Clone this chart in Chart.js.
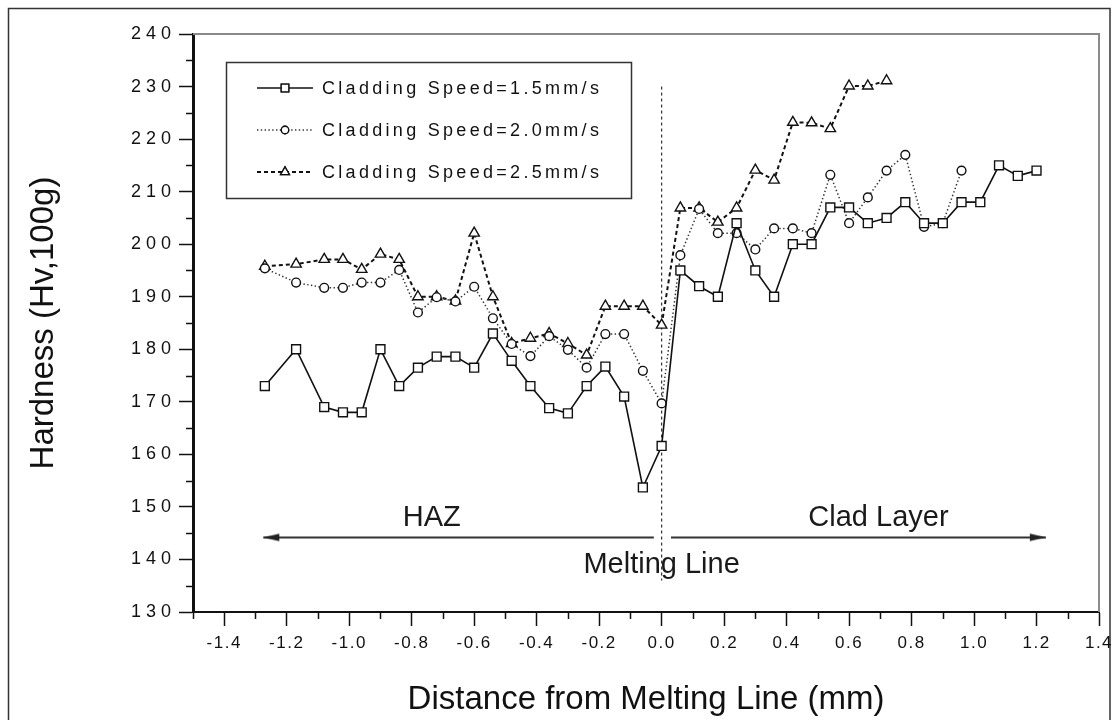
<!DOCTYPE html>
<html>
<head>
<meta charset="utf-8">
<script src="https://cdn.jsdelivr.net/npm/chart.js@4.4.1/dist/chart.umd.min.js"></script>
<style>
  html, body { margin: 0; padding: 0; background: #fff; }
  #wrap { width: 1118px; height: 720px; position: relative; }
</style>
</head>
<body>
<div id="wrap"><canvas id="hardness" width="1118" height="720"></canvas></div>
<script>
// Distance of each indent from the melting line (mm)
const distance = [-1.27, -1.17, -1.08, -1.02, -0.96, -0.90, -0.84, -0.78, -0.72, -0.66,
                  -0.60, -0.54, -0.48, -0.42, -0.36, -0.30, -0.24, -0.18, -0.12, -0.06,
                   0.00,  0.06,  0.12,  0.18,  0.24,  0.30,  0.36,  0.42,  0.48,  0.54,
                   0.60,  0.66,  0.72,  0.78,  0.84,  0.90,  0.96,  1.02,  1.08,  1.14, 1.20];

// Microhardness (Hv, 100g) for each cladding speed
const hardness15 = [173, 180, 169, 168, 168, 180, 173, 176.5, 178.6, 178.6,
                    176.5, 183, 177.8, 173, 168.8, 167.8, 173, 176.7, 171, 153.7,
                    161.6, 195, 192, 190, 204, 195, 190, 200, 200, 207,
                    207, 204, 205, 208, 204, 204, 208, 208, 215, 213, 214];
const hardness20 = [195.4, 192.7, 191.7, 191.7, 192.7, 192.7, 195.1, 187, 189.9, 189.1,
                    191.9, 185.9, 181, 178.7, 182.5, 179.9, 176.5, 182.9, 182.9, 175.9,
                    169.7, 197.9, 206.7, 202.1, 202.1, 199, 203, 203, 202.1, 213.2,
                    204, 208.9, 214, 217, 203.3, 204, 214];
const hardness25 = [195.8, 196.2, 197.1, 197.1, 195.2, 198.1, 197.1, 190, 190, 189.2,
                    202.1, 190, 181.1, 182.1, 183, 181.1, 178.9, 188.2, 188.2, 188.2,
                    184.6, 206.9, 206.9, 204.2, 206.9, 214.1, 212.2, 223.2, 223.1, 222,
                    230.1, 230.1, 231.1];

const seriesLabels = ['Cladding Speed=1.5mm/s', 'Cladding Speed=2.0mm/s', 'Cladding Speed=2.5mm/s'];

// Zone markers: melting line and the HAZ / clad layer arrows
const meltLineX = [0, 0];
const meltLineY = [230, 136];
const hazArrowX = [-0.025, -1.275];
const cladArrowX = [0.03, 1.23];
const arrowY = [144.2, 144.2];
const zoneText = ['HAZ', 'Clad Layer', 'Melting Line'];
const zoneTextX = [-0.736, 0.694, 0];
const zoneTextY = [147.9, 147.9, 138.9];

// Axis ranges
const xRange = [-1.5, 1.4];
const yRange = [130, 240];

const FONT = "'Liberation Sans', Arial, Helvetica, sans-serif";
const INK = '#111';

function pts(xs, ys) { return ys.map((y, i) => ({ x: xs[i], y })); }

// Small arrowhead bitmap; its tip sits at the bitmap centre
function arrowHead() {
  const c = document.createElement('canvas');
  c.width = 34; c.height = 10;
  const g = c.getContext('2d');
  g.fillStyle = '#222';
  g.beginPath(); g.moveTo(17, 5); g.lineTo(33, 1.2); g.lineTo(33, 8.8); g.closePath(); g.fill();
  return c;
}
const head = arrowHead();

const series = [
  { data: hardness15, style: 'rect',     radius: 6.3, dash: [],         width: 1.6, color: '#111' },
  { data: hardness20, style: 'circle',   radius: 4.4, dash: [1.4, 2.4], width: 1.5, color: '#333' },
  { data: hardness25, style: 'triangle', radius: 6.0, dash: [4, 3],     width: 2.0, color: '#111' }
];

const datasets = series.map((s, i) => ({
  label: seriesLabels[i],
  data: pts(distance, s.data),
  borderColor: s.color,
  borderWidth: s.width,
  borderDash: s.dash,
  pointStyle: s.style,
  pointRadius: s.radius,
  pointBackgroundColor: '#fff',
  pointBorderColor: INK,
  pointBorderWidth: 1.4,
  tension: 0,
  fill: false
}));

datasets.push({
  label: 'melting line',
  data: pts(meltLineX, meltLineY),
  borderColor: '#333', borderWidth: 1.2, borderDash: [3, 3],
  pointRadius: 0, fill: false
});
datasets.push({
  label: 'HAZ',
  data: pts(hazArrowX, arrowY),
  borderColor: '#333', borderWidth: 2, pointRadius: [0, 5],
  pointStyle: head, pointRotation: [0, 0], fill: false
});
datasets.push({
  label: 'Clad Layer',
  data: pts(cladArrowX, arrowY),
  borderColor: '#333', borderWidth: 2, pointRadius: [0, 5],
  pointStyle: head, pointRotation: [0, 180], fill: false
});

// Letter-spaced tick labels
const tickSpacing = { x: '1.5px', y: '5px' };
const spacedTicks = {
  id: 'spacedTicks',
  beforeDraw(chart) {
    for (const id of ['x', 'y']) {
      const s = chart.scales[id];
      if (!s || s._spaced) continue;
      const orig = s.drawLabels;
      s.drawLabels = function (area) {
        const c = this.ctx;
        c.save();
        c.letterSpacing = tickSpacing[id];
        orig.call(this, area);
        c.restore();
      };
      s._spaced = true;
    }
  }
};

const decorations = {
  id: 'decorations',
  beforeDraw(chart) {
    const ctx = chart.ctx;
    ctx.save();
    ctx.fillStyle = '#fff';
    ctx.fillRect(0, 0, chart.width, chart.height);
    ctx.strokeStyle = '#333';
    ctx.lineWidth = 1.5;
    ctx.strokeRect(8.5, 8.5, 1101.5, 740);
    ctx.restore();
  },
  afterDraw(chart) {
    const ctx = chart.ctx;
    const a = chart.chartArea;
    const xs = chart.scales.x, ys = chart.scales.y;
    ctx.save();

    // top and right frame of the plot
    ctx.strokeStyle = '#8a8a8a';
    ctx.lineWidth = 2;
    ctx.beginPath();
    ctx.moveTo(a.left, a.top); ctx.lineTo(a.right, a.top); ctx.lineTo(a.right, a.bottom);
    ctx.stroke();

    // minor ticks
    ctx.strokeStyle = INK;
    ctx.lineWidth = 1.5;
    ctx.beginPath();
    for (let k = -15; k <= 13; k += 2) {
      const px = Math.round(xs.getPixelForValue(k / 10)) + 0.5;
      ctx.moveTo(px, a.bottom); ctx.lineTo(px, a.bottom + 7);
    }
    for (let v = 135; v < 240; v += 10) {
      const py = Math.round(ys.getPixelForValue(v)) + 0.5;
      ctx.moveTo(a.left, py); ctx.lineTo(a.left - 7, py);
    }
    ctx.stroke();

    // zone labels
    ctx.fillStyle = '#1a1a1a';
    ctx.font = '29px ' + FONT;
    ctx.textAlign = 'center';
    ctx.textBaseline = 'middle';
    zoneText.forEach((t, i) => {
      ctx.fillText(t, xs.getPixelForValue(zoneTextX[i]), ys.getPixelForValue(zoneTextY[i]));
    });

    // legend
    const bx = a.left + 33, by = a.top + 28, bw = 405, bh = 136;
    ctx.strokeStyle = '#333';
    ctx.lineWidth = 1.5;
    ctx.strokeRect(bx + 0.5, by + 0.5, bw, bh);
    ctx.font = '18px ' + FONT;
    ctx.textAlign = 'left';
    ctx.letterSpacing = '3.3px';
    chart.data.datasets.slice(0, 3).forEach((ds, i) => {
      const ry = by + 26 + i * 42;
      ctx.save();
      ctx.strokeStyle = ds.borderColor;
      ctx.lineWidth = ds.borderWidth;
      ctx.setLineDash(ds.borderDash);
      ctx.beginPath(); ctx.moveTo(bx + 31, ry); ctx.lineTo(bx + 87, ry); ctx.stroke();
      ctx.setLineDash([]);
      ctx.fillStyle = '#fff';
      ctx.strokeStyle = INK;
      ctx.lineWidth = 1.3;
      Chart.helpers.drawPoint(ctx, { pointStyle: ds.pointStyle, radius: ds.pointRadius * 0.85, borderWidth: 1.3, rotation: 0 }, bx + 59, ry);
      ctx.fill(); ctx.stroke();
      ctx.restore();
      ctx.fillStyle = '#111';
      ctx.fillText(ds.label, bx + 96, ry + 1);
    });
    ctx.restore();
  }
};

const majorX = v => Math.abs(Math.round(v * 10) % 2) === 0;

new Chart(document.getElementById('hardness'), {
  type: 'line',
  data: { datasets },
  options: {
    responsive: false,
    animation: false,
    devicePixelRatio: 1,
    events: [],
    layout: { padding: { left: 0, top: 34, right: 19, bottom: 0 } },
    plugins: { legend: { display: false }, tooltip: { enabled: false } },
    scales: {
      x: {
        type: 'linear',
        min: xRange[0], max: xRange[1],
        afterFit(s) { s.height = 108; },
        border: { display: true, color: INK, width: 2 },
        grid: {
          drawOnChartArea: false, drawTicks: true, tickLength: 14, tickWidth: 1.5,
          tickColor: c => (c.tick && majorX(c.tick.value)) ? INK : 'rgba(0,0,0,0)'
        },
        ticks: {
          stepSize: 0.1, autoSkip: false, maxRotation: 0, maxTicksLimit: 100, padding: 7,
          color: '#111', font: { family: FONT, size: 17 },
          callback: v => {
            if (!majorX(v) || v < -1.45) return '';
            const r = Math.round(v * 10) / 10;
            return (Math.abs(r) < 1e-9 ? 0 : r).toFixed(1);
          }
        },
        title: {
          display: true, text: 'Distance from Melting Line (mm)',
          color: '#111', font: { family: FONT, size: 33 }, padding: { top: 0, bottom: 0 }
        }
      },
      y: {
        type: 'linear',
        min: yRange[0], max: yRange[1],
        afterFit(s) { s.width = 193; },
        border: { display: true, color: INK, width: 3 },
        grid: {
          drawOnChartArea: false, drawTicks: true, tickLength: 14, tickWidth: 1.5,
          tickColor: c => (c.tick && c.tick.value % 10 === 0) ? INK : 'rgba(0,0,0,0)'
        },
        ticks: {
          stepSize: 5, autoSkip: false, maxTicksLimit: 100, padding: 3,
          color: '#111', font: { family: FONT, size: 18 },
          callback: v => (v % 10 === 0 ? String(v) : '')
        },
        title: {
          display: true, text: 'Hardness (Hv,100g)',
          color: '#111', font: { family: FONT, size: 33 }, padding: { top: 24, bottom: 0 }
        }
      }
    }
  },
  plugins: [spacedTicks, decorations]
});
</script>
</body>
</html>
